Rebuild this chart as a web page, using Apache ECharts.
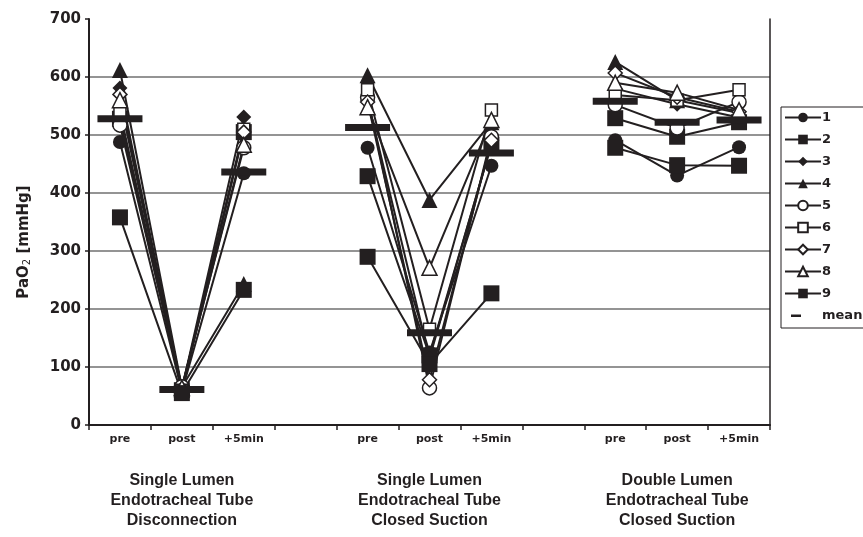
<!DOCTYPE html>
<html>
<head>
<meta charset="utf-8">
<script src="https://cdn.jsdelivr.net/npm/echarts@6/dist/echarts.min.js"></script>
<style>
  html, body { margin: 0; padding: 0; background: #fff; }
  #chart { width: 863px; height: 537px; }
</style>
</head>
<body>
<div id="chart"></div>
<script>
// Measurement slots: three protocols, each pre / post / +5min, separated by an empty slot
const categories = ['pre', 'post', '+5min', '', 'pre', 'post', '+5min', '', 'pre', 'post', '+5min'];
const groupTitles = ['', 'Single Lumen\nEndotracheal Tube\nDisconnection', '', '',
                     '', 'Single Lumen\nEndotracheal Tube\nClosed Suction', '', '',
                     '', 'Double Lumen\nEndotracheal Tube\nClosed Suction', ''];
const yMin = 0, yMax = 700, yStep = 100;

// PaO2 [mmHg] per animal (null = spacer slot between protocols)
const animal1 = [488, 58, 434, null, 478, 125, 447, null, 491, 430, 479];
const animal2 = [528, 60, 505, null, 429, 120, 483, null, 529, 497, 522];
const animal3 = [581, 62, 531, null, 560, 115, 485, null, 580, 553, 530];
const animal4 = [612, 65, 243, null, 603, 388, 522, null, 626, 560, 538];
const animal5 = [517, 66, 478, null, 565, 64, 497, null, 552, 512, 557];
const animal6 = [540, 60, 510, null, 578, 165, 543, null, 569, 560, 578];
const animal7 = [570, 62, 505, null, 557, 78, 491, null, 607, 565, 540];
const animal8 = [560, 64, 483, null, 548, 271, 526, null, 590, 573, 543];
const animal9 = [358, 55, 233, null, 290, 105, 227, null, 478, 448, 447];
const meanValues = [528, 61, 436, null, 513, 159, 469, null, 558, 522, 526];

const ink = '#231f20';
const font = 'DejaVu Sans';
const titleFont = 'Liberation Sans';

// marker style per animal
const animals = [
  { name: '1', data: animal1, symbol: 'circle',   size: 14, filled: true },
  { name: '2', data: animal2, symbol: 'rect',     size: 16, filled: true },
  { name: '3', data: animal3, symbol: 'diamond',  size: 15, filled: true },
  { name: '4', data: animal4, symbol: 'triangle', size: 16, filled: true },
  { name: '5', data: animal5, symbol: 'circle',   size: 14, filled: false },
  { name: '6', data: animal6, symbol: 'rect',     size: 12, filled: false },
  { name: '7', data: animal7, symbol: 'diamond',  size: 14, filled: false },
  { name: '8', data: animal8, symbol: 'triangle', size: 15, filled: false },
  { name: '9', data: animal9, symbol: 'rect',     size: 16, filled: true }
];

const series = animals.map(a => ({
  name: a.name,
  type: 'line',
  data: a.data,
  connectNulls: false,
  symbol: a.symbol,
  symbolSize: a.size,
  showAllSymbol: true,
  lineStyle: { color: ink, width: 2 },
  itemStyle: a.filled
    ? { color: ink, borderColor: ink, borderWidth: 0, opacity: 1 }
    : { color: '#fff', borderColor: ink, borderWidth: 1.5, opacity: 1 },
  emphasis: { disabled: true },
  animation: false
}));

// group means drawn as wide horizontal bars
series.push({
  name: 'mean',
  type: 'scatter',
  data: meanValues,
  symbol: 'rect',
  symbolSize: [45, 7],
  itemStyle: { color: ink, opacity: 1 },
  z: 10,
  emphasis: { disabled: true },
  animation: false
});

const chart = echarts.init(document.getElementById('chart'), null, { renderer: 'canvas' });

chart.setOption({
  backgroundColor: '#fff',
  animation: false,
  grid: { left: 89, right: 93, top: 19, bottom: 112, containLabel: false },
  xAxis: [
    {
      type: 'category',
      data: categories,
      boundaryGap: true,
      axisLine: { show: true, lineStyle: { color: ink, width: 2 } },
      axisTick: { show: true, inside: false, length: 5, interval: 0, lineStyle: { color: ink, width: 1.5 } },
      axisLabel: { interval: 0, margin: 9, color: ink, fontFamily: font, fontWeight: 'bold', fontSize: 11 },
      splitLine: { show: false }
    },
    {
      type: 'category',
      data: groupTitles,
      position: 'bottom',
      offset: 40,
      boundaryGap: true,
      axisLine: { show: false },
      axisTick: { show: false },
      axisLabel: { interval: 0, margin: 6, color: ink, fontFamily: titleFont, fontWeight: 'bold', fontSize: 16, lineHeight: 20 },
      splitLine: { show: false }
    }
  ],
  yAxis: [
    {
      type: 'value',
      min: yMin, max: yMax, interval: yStep,
      axisLine: { show: true, lineStyle: { color: ink, width: 2 } },
      axisTick: { show: true, inside: false, length: 4, lineStyle: { color: ink, width: 1.5 } },
      axisLabel: { margin: 8, color: ink, fontFamily: font, fontWeight: 'bold', fontSize: 15 },
      splitLine: { show: true, showMaxLine: false, lineStyle: { color: '#707070', width: 1.5 } }
    },
    {
      type: 'value',
      position: 'right',
      min: yMin, max: yMax, interval: yStep,
      axisLine: { show: true, lineStyle: { color: ink, width: 1.5 } },
      axisTick: { show: false },
      axisLabel: { show: false },
      splitLine: { show: false }
    }
  ],
  legend: {
    orient: 'vertical',
    left: 781,
    top: 107,
    padding: [4, 40, 6, 3],
    itemWidth: 36,
    itemHeight: 12,
    itemGap: 9,
    backgroundColor: '#fff',
    borderColor: ink,
    borderWidth: 1,
    selectedMode: false,
    textStyle: { color: ink, fontFamily: font, fontWeight: 'bold', fontSize: 13, padding: [0, 0, 0, -4] },
    data: animals.map(a => a.name).concat([{
      name: 'mean',
      icon: 'path://M0,0L0,0M36,12L36,12M6,5H16V7.5H6Z'
    }])
  },
  graphic: [{
    type: 'text',
    x: 24,
    y: 242,
    rotation: Math.PI / 2,
    style: {
      text: '{a|PaO}{s|2}{a| [mmHg]}',
      align: 'center',
      verticalAlign: 'middle',
      fill: ink,
      rich: {
        a: { fontFamily: font, fontWeight: 'bold', fontSize: 15, fill: ink },
        s: { fontFamily: font, fontWeight: 'normal', fontSize: 10, fill: ink, padding: [6, 0, 0, 0] }
      }
    }
  }],
  series: series
});
</script>
</body>
</html>
